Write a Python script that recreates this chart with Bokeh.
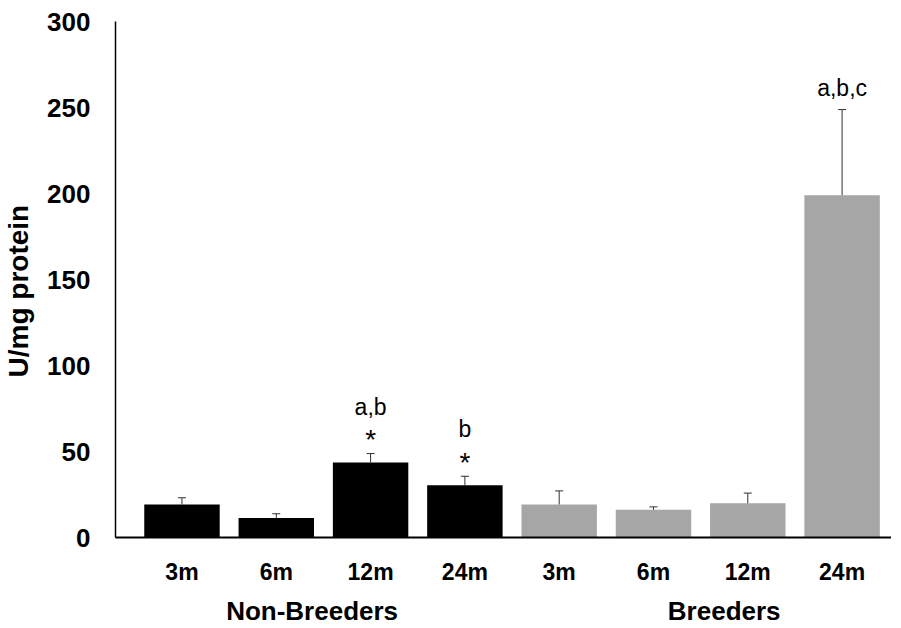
from bokeh.plotting import figure
from bokeh.models import (ColumnDataSource, FixedTicker, LinearAxis, Whisker, TeeHead,
                          Range1d)
from bokeh.core.properties import value
from bokeh.embed import file_html
from bokeh.resources import INLINE

# ---- data ----
ages = ["3m", "6m", "12m", "24m", "3m", "6m", "12m", "24m"]
groups = ["Non-Breeders", "Breeders"]
group_of_bar = ["Non-Breeders"] * 4 + ["Breeders"] * 4
means = [19.2, 11.4, 43.6, 30.4, 19.2, 16.1, 19.9, 199.0]
errors = [3.9, 2.4, 5.2, 5.2, 7.9, 1.7, 5.9, 49.8]
stars = ["", "", "*", "*", "", "", "", ""]
letters = ["", "", "a,b", "b", "", "", "", "a,b,c"]
y_ticks = [0, 50, 100, 150, 200, 250, 300]
y_title = "U/mg protein"

group_colors = {"Non-Breeders": "#000000", "Breeders": "#A6A6A6"}
FONT = "Liberation Sans"

idx = list(range(len(ages)))
upper = [m + e for m, e in zip(means, errors)]
src = ColumnDataSource(dict(
    x=idx, top=means, upper=upper,
    color=[group_colors[g] for g in group_of_bar],
    star=stars, letter=letters,
    letter_off=[-47 if s else -22 for s in stars],
))

p = figure(frame_width=776, frame_height=516, output_backend="svg", toolbar_location=None,
           x_range=Range1d(-0.705, 7.524), y_range=Range1d(0, 300),
           min_border_left=109, min_border_top=21, min_border_bottom=70,
           min_border_right=0, x_axis_type=None, y_axis_type=None)
p.outline_line_color = None
p.xgrid.visible = False
p.ygrid.visible = False

p.vbar(x="x", top="top", width=0.8, fill_color="color", line_color=None, source=src)

wh = Whisker(base="x", upper="upper", lower="top", source=src,
             line_color="#303030", line_width=1,
             upper_head=TeeHead(size=8, line_color="#303030", line_width=1),
             lower_head=None, level="overlay")
p.add_layout(wh)

p.text(x="x", y="upper", text="star", source=src, y_offset=-14,
       text_align="center", text_baseline="alphabetic",
       text_font=value(FONT), text_font_size="28px",
       text_color="black")
p.text(x="x", y="upper", text="letter", y_offset="letter_off", source=src,
       text_align="center", text_baseline="alphabetic",
       text_font=value(FONT), text_font_size="23px", text_color="black")

# y axis (trailing no-break spaces nudge the centred title slightly downward)
yax = LinearAxis(ticker=FixedTicker(ticks=y_ticks))
yax.axis_label = y_title + "\u00a0\u00a0\u00a0"
yax.axis_label_text_font = FONT
yax.axis_label_text_font_style = "bold"
yax.axis_label_text_font_size = "28px"
yax.axis_label_text_color = "black"
yax.axis_label_standoff = 10
yax.major_label_text_font = FONT
yax.major_label_text_font_style = "bold"
yax.major_label_text_font_size = "26px"
yax.major_label_text_color = "black"
yax.major_label_standoff = 19
yax.major_tick_line_color = None
yax.minor_tick_line_color = None
yax.axis_line_width = 1.5
yax.axis_line_color = "black"
p.add_layout(yax, "left")

# x axis (ages)
xax = LinearAxis(ticker=FixedTicker(ticks=idx),
                 major_label_overrides={i: a for i, a in enumerate(ages)})
xax.major_label_text_font = FONT
xax.major_label_text_font_style = "bold"
xax.major_label_text_font_size = "23px"
xax.major_label_text_color = "black"
xax.major_label_standoff = 15
xax.major_tick_line_color = None
xax.minor_tick_line_color = None
xax.axis_line_width = 2
xax.axis_line_color = "black"
p.add_layout(xax, "below")

# group labels axis, under the age labels
group_pos = [1.38, 5.75]
gax = LinearAxis(ticker=FixedTicker(ticks=group_pos),
                 major_label_overrides={group_pos[i]: g for i, g in enumerate(groups)})
gax.major_label_text_font = FONT
gax.major_label_text_font_style = "bold"
gax.major_label_text_font_size = "26px"
gax.major_label_text_color = "black"
gax.major_label_standoff = 2
gax.axis_line_color = None
gax.major_tick_line_color = None
gax.minor_tick_line_color = None
p.add_layout(gax, "below")

open("out.html", "w").write(file_html(p, INLINE))
